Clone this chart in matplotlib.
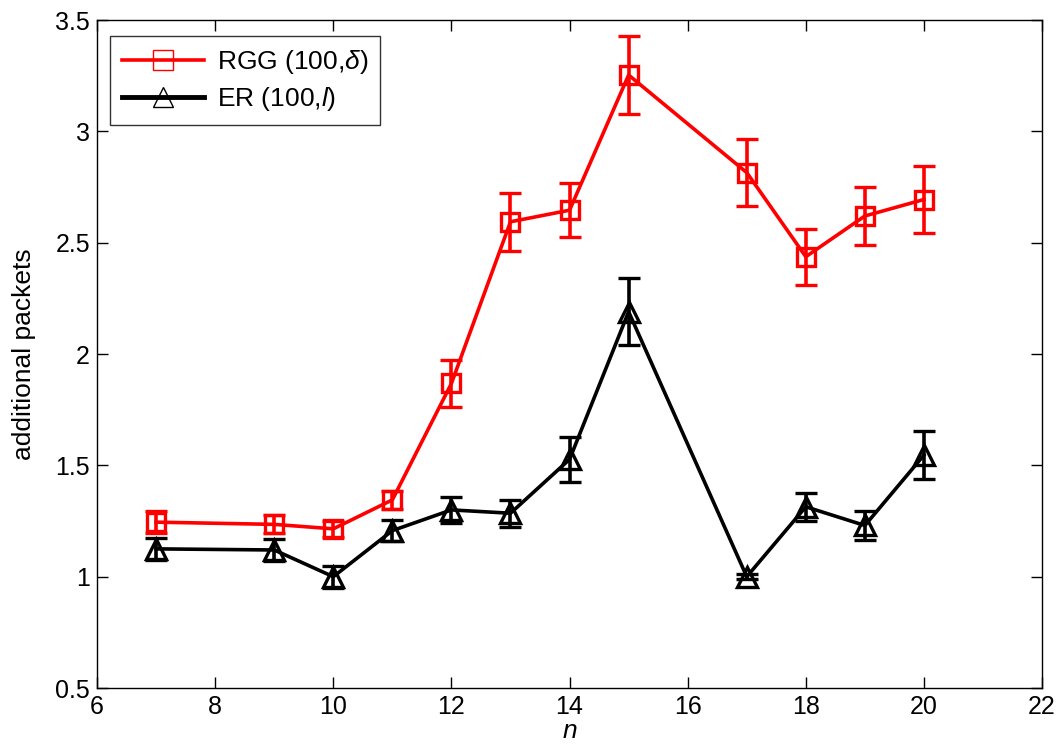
import matplotlib.pyplot as plt

plt.rcParams["font.family"] = ["Liberation Sans", "DejaVu Sans"]
plt.rcParams["mathtext.fontset"] = "custom"
plt.rcParams["mathtext.rm"] = "Liberation Sans"
plt.rcParams["mathtext.it"] = "Liberation Sans:italic"

# === data ===
n_vals = [7, 9, 10, 11, 12, 13, 14, 15, 17, 18, 19, 20]
rgg_mean = [1.245, 1.235, 1.215, 1.345, 1.868, 2.594, 2.646, 3.253, 2.815, 2.437, 2.62, 2.694]
rgg_err = [0.05, 0.04, 0.035, 0.04, 0.105, 0.13, 0.12, 0.175, 0.15, 0.125, 0.13, 0.15]
er_mean = [1.125, 1.12, 1.0, 1.207, 1.30, 1.285, 1.527, 2.19, 1.0, 1.314, 1.23, 1.546]
er_err = [0.05, 0.05, 0.05, 0.047, 0.058, 0.06, 0.1, 0.15, 0.01, 0.063, 0.063, 0.108]

fig = plt.figure(figsize=(10.63, 7.56), dpi=100)
ax = fig.add_axes([0.0913, 0.0899, 0.8890, 0.8836])

ax.errorbar(n_vals, rgg_mean, yerr=rgg_err, color="#ff0000", lw=2.6,
            marker="s", ms=13, mfc="none", mec="#ff0000", mew=2.4,
            capsize=8, capthick=2.6, elinewidth=2.6,
            label=r"RGG (100,$\delta$)")
ax.errorbar(n_vals, er_mean, yerr=er_err, color="black", lw=2.6,
            marker="^", ms=14, mfc="none", mec="black", mew=2.4,
            capsize=8, capthick=2.6, elinewidth=2.6,
            label=r"ER (100,$\mathit{l}$)")

ax.set_xlim(6, 22)
ax.set_ylim(0.5, 3.5)
ax.set_xticks(range(6, 23, 2))
ax.set_yticks([0.5, 1, 1.5, 2, 2.5, 3, 3.5])
ax.set_yticklabels(["0.5", "1", "1.5", "2", "2.5", "3", "3.5"])
ax.tick_params(direction="in", top=True, right=True, labelsize=18,
               length=8, width=1, pad=5)
for s in ax.spines.values():
    s.set_linewidth(1)

ax.set_xlabel("n", fontsize=19, style="italic", labelpad=0)
ax.set_ylabel("additional packets", fontsize=19, labelpad=14)

# legend handles without error bars
h, l = ax.get_legend_handles_labels()
h = [hh[0] for hh in h]
leg = ax.legend(h, l, loc="upper left", fontsize=19, frameon=True,
                fancybox=False, edgecolor="black", handlelength=3.1,
                borderpad=0.45, labelspacing=0.35, handletextpad=0.5,
                borderaxespad=0, bbox_to_anchor=(0.014, 0.976))
leg.get_frame().set_linewidth(1)
for lh in leg.legend_handles:
    lh.set_markersize(14)
    lh.set_markeredgewidth(1.0)
leg.legend_handles[1].set_linewidth(3.5)

fig.savefig("out.png", dpi=100)
plt.close()
